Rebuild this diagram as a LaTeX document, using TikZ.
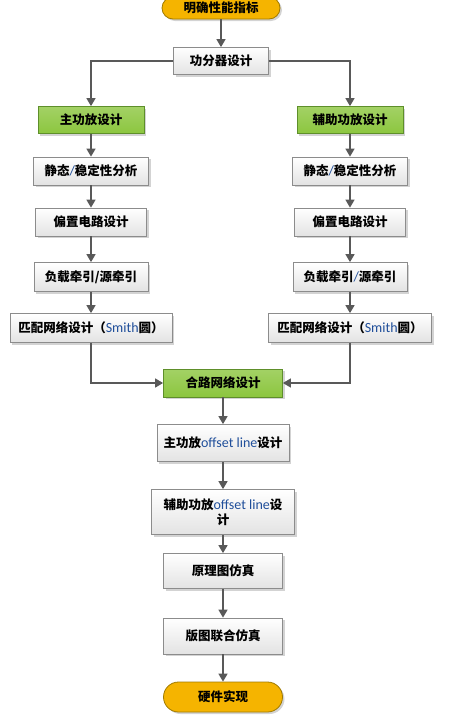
\documentclass[tikz,border=0pt]{standalone}
\usepackage{fontspec}
\setmainfont{Noto Sans CJK SC}
\newfontfamily\latinfont[Scale=1.12]{Carlito}
\usepackage{tikz}
\usetikzlibrary{arrows.meta,positioning,shadows}
\definecolor{flowline}{HTML}{595959}
\definecolor{boxline}{HTML}{8C8C8C}
\definecolor{paleend}{HTML}{E3E3E3}
\definecolor{ampgreen}{HTML}{8CC63F}
\definecolor{ampgreenline}{HTML}{5E8F2A}
\definecolor{goldfill}{HTML}{F5B400}
\definecolor{goldline}{HTML}{A07A00}
\definecolor{engblue}{HTML}{1F4E9A}
\newcommand{\eng}[1]{{\latinfont\mdseries\color{engblue}#1}}

\begin{document}
\begin{tikzpicture}[x=1pt, y=-1pt,
  stepbox/.style={rectangle, draw=boxline, line width=0.8pt,
                  top color=white, bottom color=paleend,
                  drop shadow={opacity=0.35, shadow xshift=2pt, shadow yshift=-2pt},
                  font=\fontsize{12.5}{15}\selectfont\bfseries, text=black,
                  align=center, inner sep=2pt},
  ampbox/.style={stepbox, draw=ampgreenline, top color=ampgreen!80, bottom color=ampgreen},
  terminal/.style={rectangle, rounded corners=11pt, draw=goldline, line width=0.8pt,
                   fill=goldfill,
                   drop shadow={opacity=0.35, shadow xshift=2pt, shadow yshift=-2pt},
                   font=\fontsize{12.5}{15}\selectfont\bfseries, text=black},
  flow/.style={-{Triangle[length=8pt, width=9pt]}, line width=1.6pt, color=flowline},
]
  \useasboundingbox (0,0) rectangle (459,721);

  % top part
  \node[terminal, minimum width=118pt, minimum height=22pt] (spec) at (221,8) {明确性能指标};
  \node[stepbox, minimum width=95pt, minimum height=27pt] (divider) at (221,61) {功分器设计};

  % main amplifier branch
  \node[ampbox, minimum width=106pt, minimum height=27pt] (mainamp) at (91,120) {主功放设计};
  \node[stepbox, minimum width=115pt, minimum height=28pt] (mainstab) at (91,171) {静态\eng{/}稳定性分析};
  \node[stepbox, minimum width=111pt, minimum height=28pt] (mainbias) at (91,222) {偏置电路设计};
  \node[stepbox, minimum width=114pt, minimum height=29pt] (mainpull) at (91,277) {负载牵引/源牵引};
  \node[stepbox, minimum width=162pt, minimum height=29pt] (mainmatch) at (91,328) {匹配网络设计（\eng{Smith}圆）};

  % auxiliary amplifier branch
  \node[ampbox, minimum width=106pt, minimum height=27pt] (auxamp) at (350,120) {辅助功放设计};
  \node[stepbox, minimum width=115pt, minimum height=28pt] (auxstab) at (350,171) {静态\eng{/}稳定性分析};
  \node[stepbox, minimum width=111pt, minimum height=28pt] (auxbias) at (350,222) {偏置电路设计};
  \node[stepbox, minimum width=114pt, minimum height=29pt] (auxpull) at (350,277) {负载牵引\eng{/}源牵引};
  \node[stepbox, minimum width=163pt, minimum height=29pt] (auxmatch) at (350,328) {匹配网络设计（\eng{Smith}圆）};

  % combining and simulation
  \node[ampbox, minimum width=119pt, minimum height=28pt] (combiner) at (223,383) {合路网络设计};
  \node[stepbox, minimum width=132pt, minimum height=37pt] (mainoffset) at (223,443) {主功放\eng{offset line}设计};
  \node[stepbox, minimum width=143pt, minimum height=45pt] (auxoffset) at (223,512) {辅助功放\eng{offset line}设\\计};
  \node[stepbox, minimum width=119pt, minimum height=35pt] (schsim) at (223,571) {原理图仿真};
  \node[stepbox, minimum width=119pt, minimum height=36pt] (layoutsim) at (223,636) {版图联合仿真};
  \node[terminal, minimum width=119pt, minimum height=30pt, rounded corners=15pt] (hardware) at (223,697) {硬件实现};

  \draw[flow] (spec) -- (divider);
  \draw[flow] (divider.west) -| (mainamp.north);
  \draw[flow] (divider.east) -| (auxamp.north);

  \draw[flow] (mainamp) -- (mainstab);
  \draw[flow] (mainstab) -- (mainbias);
  \draw[flow] (mainbias) -- (mainpull);
  \draw[flow] (mainpull) -- (mainmatch);
  \draw[flow] (auxamp) -- (auxstab);
  \draw[flow] (auxstab) -- (auxbias);
  \draw[flow] (auxbias) -- (auxpull);
  \draw[flow] (auxpull) -- (auxmatch);

  \draw[flow] (mainmatch.south) |- (combiner.west);
  \draw[flow] (auxmatch.south) |- (combiner.east);

  \draw[flow] (combiner) -- (mainoffset);
  \draw[flow] (mainoffset) -- (auxoffset);
  \draw[flow] (auxoffset) -- (schsim);
  \draw[flow] (schsim) -- (layoutsim);
  \draw[flow] (layoutsim) -- (hardware);
\end{tikzpicture}
\end{document}
